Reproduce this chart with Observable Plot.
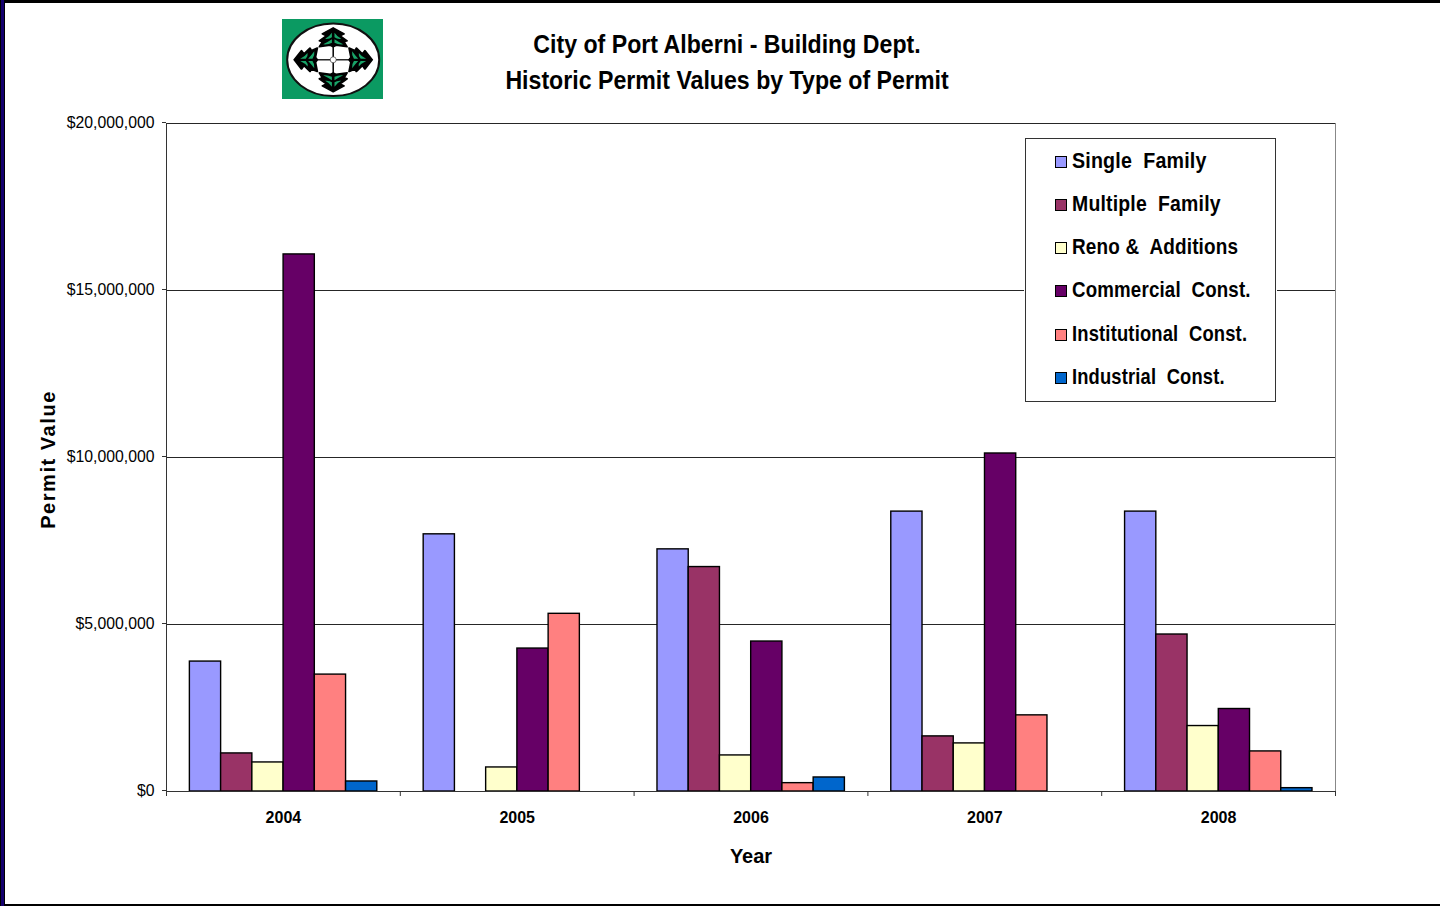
<!DOCTYPE html>
<html><head><meta charset="utf-8">
<script src="https://cdn.jsdelivr.net/npm/d3@7"></script>
<script src="https://cdn.jsdelivr.net/npm/@observablehq/plot@0.6"></script>
<style>
html,body{margin:0;padding:0;background:#fff;overflow:hidden}
#page{position:relative;width:1440px;height:906px;overflow:hidden;font-family:"Liberation Sans",Arial,sans-serif;color:#000}
#page svg.plot{position:absolute;left:0;top:0}
.border{position:absolute;background:#000}
.title{position:absolute;left:327px;width:800px;text-align:center;font-weight:bold;font-size:26px;line-height:36px;transform:scaleX(.89);white-space:pre}
#legend{position:absolute;left:1025px;top:138px;width:249px;height:262px;background:#fff;border:1px solid #333;outline:1px solid #fff;}
.row{position:absolute;left:29px;height:26px;display:flex;align-items:center}
.sw{width:10px;height:10px;border:1.5px solid #000;margin-right:4px;flex:none;position:relative;top:1px}
.lab{font-weight:bold;font-size:22px;white-space:pre;transform-origin:left center;letter-spacing:.2px;position:relative;left:1px}
#logo{position:absolute;left:282px;top:19px}
</style></head><body>
<div id="page">
<div id="chart"></div>
<div class="title" style="top:26px">City of Port Alberni - Building Dept.</div>
<div class="title" style="top:62px">Historic Permit Values by Type of Permit</div>
<svg id="logo" width="101" height="80" viewBox="-50.5 -40 101 80">
<defs>
<g id="leaf">
<path d="M0,-32 L11,-26 L7,-24 L14,-19 L11,-18 L14,-13 L3,-14.5 L0,-13 L-3,-14.5 L-14,-13 L-11,-18 L-14,-19 L-7,-24 L-11,-26 Z" fill="#000" stroke="#000" stroke-width="1.5" stroke-linejoin="round"/>
<path d="M-1.3,-27 Q-4,-23 -8,-21 Q-4,-20.5 -1.3,-22.5 Z M1.3,-27 Q4,-23 8,-21 Q4,-20.5 1.3,-22.5 Z M-1.3,-20.5 Q-5,-18 -10,-15.5 Q-5,-15 -1.3,-17 Z M1.3,-20.5 Q5,-18 10,-15.5 Q5,-15 1.3,-17 Z" fill="#19a468"/>
<line x1="0" y1="-14" x2="0" y2="0" stroke="#000" stroke-width="1.5"/>
</g>
</defs>
<rect x="-50.5" y="-40" width="101" height="80" fill="#0b9a62"/>
<g transform="translate(.7,.8)">
<ellipse cx="0" cy="0" rx="46" ry="36.3" fill="#fff" stroke="#111" stroke-width="2"/>
<use href="#leaf"/>
<use href="#leaf" transform="rotate(180)"/>
<use href="#leaf" transform="scale(1.22,.85) rotate(90)"/>
<use href="#leaf" transform="scale(1.22,.85) rotate(270)"/>
<circle r="3" fill="#fff" stroke="#222" stroke-width=".6"/>
</g>
</svg>
<div id="legend"></div>
<div class="border" style="left:0;top:0;width:1440px;height:3px"></div>
<div class="border" style="left:0;top:904px;width:1440px;height:2px"></div>
<div class="border" style="left:0;top:0;width:5px;height:906px;background:#000"></div>
<div class="border" style="left:1px;top:0;width:3px;height:906px;background:#14006e"></div>
</div>
<script>
const years = ["2004","2005","2006","2007","2008"];
const seriesNames = ["Single  Family","Multiple  Family","Reno &  Additions","Commercial  Const.","Institutional  Const.","Industrial  Const."];
const seriesColors = ["#9999FF","#993366","#FFFFCC","#660066","#FF8080","#0066CC"];
const singleFamily  = [3890000,7700000,7250000,8380000,8380000];
const multipleFamily= [1140000,0,6720000,1650000,4700000];
const renoAdditions = [870000,720000,1080000,1440000,1960000];
const commercial    = [16080000,4280000,4490000,10120000,2470000];
const institutional = [3500000,5320000,250000,2280000,1200000];
const industrial    = [300000,0,420000,0,100000];
const allSeries = [singleFamily,multipleFamily,renoAdditions,commercial,institutional,industrial];
const yTicks = [0,5000000,10000000,15000000,20000000];
const groupPad = 0.1, barStep = 0.1336;

const rows = [];
allSeries.forEach((vals,s)=>vals.forEach((v,i)=>{
  if(v>0) rows.push({x1:i+groupPad+s*barStep,x2:i+groupPad+(s+1)*barStep,value:v,series:seriesNames[s]});
}));

const chart = Plot.plot({
  width:1440,height:906,
  marginLeft:166,marginRight:105,marginTop:123,marginBottom:115,
  style:{fontFamily:'"Liberation Sans",Arial,sans-serif',background:"transparent",color:"#000"},
  x:{domain:[0,years.length],label:null},
  y:{domain:[0,20000000],label:null},
  color:{domain:seriesNames,range:seriesColors},
  marks:[
    Plot.ruleY(yTicks.slice(1),{stroke:"#000",strokeWidth:1,strokeOpacity:.85}),
    Plot.ruleX([years.length],{stroke:"#888",strokeWidth:1}),
    Plot.rectY(rows,{x1:"x1",x2:"x2",y1:0,y2:"value",fill:"series",stroke:"#000",strokeWidth:1.4}),
    Plot.ruleX([0],{stroke:"#333",strokeWidth:1}),
    Plot.ruleY([0],{stroke:"#333",strokeWidth:1.2}),
    Plot.axisY({ticks:yTicks,tickFormat:d=>"$"+d3.format(",")(d),tickSize:4,tickPadding:8,fontSize:15.8,dy:-1,label:null,stroke:"#333"}),
    Plot.axisX({ticks:d3.range(years.length+1),tickFormat:()=>"",tickSize:5,label:null,stroke:"#333"}),
    Plot.axisX({ticks:years.map((_,i)=>i+.5),tickFormat:d=>years[Math.floor(d)],tickSize:0,tickPadding:20,fontSize:16,fontWeight:"bold",label:null}),
    Plot.text(["Year"],{frameAnchor:"bottom",dy:71,fontSize:20,fontWeight:"bold"}),
    Plot.text(["Permit Value"],{frameAnchor:"left",textAnchor:"middle",dx:-118,dy:2,rotate:-90,fontSize:20,fontWeight:"bold"})
  ]
});
chart.classList.add("plot");
chart.querySelectorAll("text").forEach(t=>{ if(t.textContent==="Permit Value") t.style.letterSpacing="1.55px"; });
document.getElementById("chart").appendChild(chart);

const legend = document.getElementById("legend");
const rowTops = [9,52,95,138,182,225];
const labelSqueeze = [.893,.884,.86,.85,.836,.833];
seriesNames.forEach((n,i)=>{
  const r=document.createElement("div");r.className="row";r.style.top=rowTops[i]+"px";
  const s=document.createElement("div");s.className="sw";s.style.background=seriesColors[i];
  const t=document.createElement("div");t.className="lab";t.textContent=n;t.style.transform=`scaleX(${labelSqueeze[i]})`;
  r.append(s,t);legend.append(r);
});
</script>
</body></html>
